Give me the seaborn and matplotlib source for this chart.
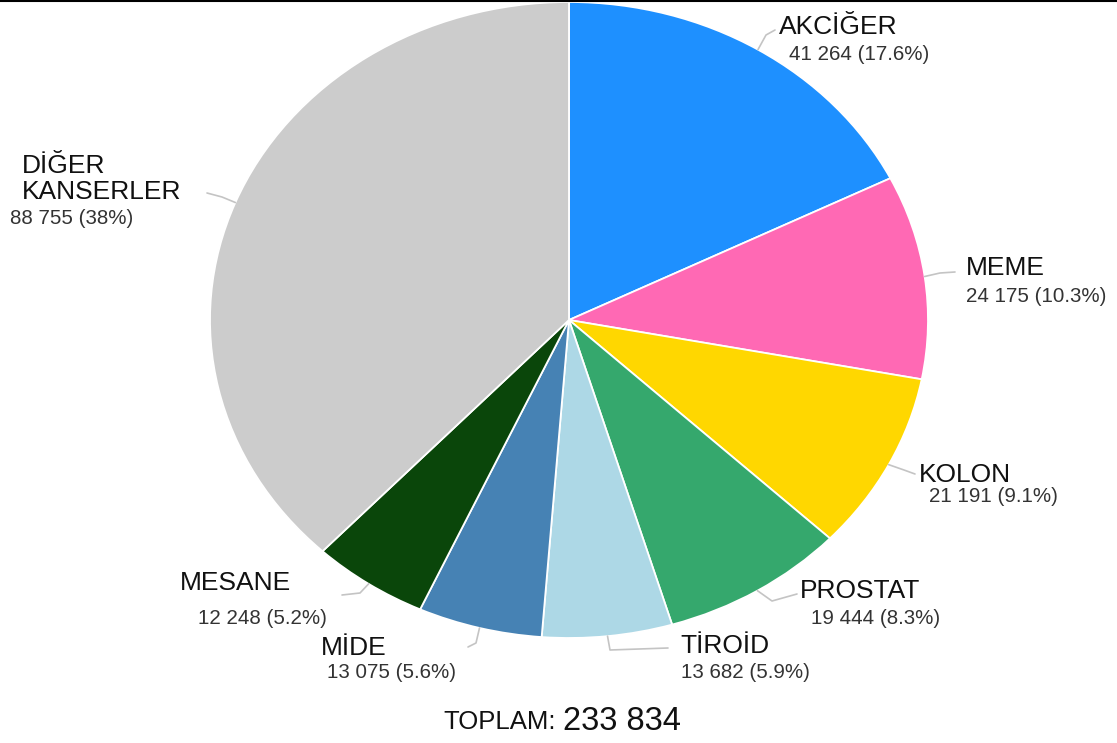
import numpy as np
import matplotlib
matplotlib.use("Agg")
import matplotlib.pyplot as plt
from matplotlib.lines import Line2D
import seaborn as sns

# ---- data ----
categories = ["AKCİĞER", "MEME", "KOLON", "PROSTAT", "TİROİD", "MİDE", "MESANE", "DİĞER\nKANSERLER"]
values = [41264, 24175, 21191, 19444, 13682, 13075, 12248, 88755]
colors = ["#1E90FF", "#FF69B4", "#FFD700", "#35A86D", "#ADD8E6", "#4682B4", "#0A460A", "#CCCCCC"]
total_label = "TOPLAM:"

sns.set_theme(style="white")
plt.rcParams["font.family"] = ["Liberation Sans", "DejaVu Sans"]

W, H = 1117, 743
fig = plt.figure(figsize=(W / 100, H / 100), dpi=100)
fig.patch.set_facecolor("white")

# axes box placed so the (stretched) pie fills the same region as the reference
L, R, T, B = 210, 928, 2, 638
ax = fig.add_axes([L / W, 1 - B / H, (R - L) / W, (B - T) / H])
ax.pie(values, colors=colors, startangle=90, counterclock=False,
       wedgeprops=dict(edgecolor="white", linewidth=1.3))
ax.set_aspect("auto")
ax.set_xlim(-1, 1)
ax.set_ylim(-1, 1)
ax.axis("off")

total = sum(values)


def fmt_num(v):
    return f"{v:,}".replace(",", " ")


def fmt_pct(v):
    p = f"{100 * v / total:.1f}"
    if p.endswith(".0"):
        p = p[:-2]
    return p + "%"


def px(x, y):
    """figure-pixel (from top-left) -> figure fraction"""
    return (x / W, 1 - y / H)


def px_to_data(x, y):
    fx, fy = px(x, y)
    disp = fig.transFigure.transform((fx, fy))
    return ax.transData.inverted().transform(disp)


# layout: name position, value position, leader elbow/end (pixels)
layout = [
    dict(name=(779, 27), val=(789, 55), lead=[(766, 35), (775, 30)]),
    dict(name=(966, 268), val=(966, 297), lead=[(940, 273), (955, 272)]),
    dict(name=(919, 475), val=(929, 497), lead=[(904, 470), (915, 474)]),
    dict(name=(800, 591), val=(811, 619), lead=[(772, 601), (797, 594)]),
    dict(name=(680, 646), val=(681, 673), lead=[(610, 650), (668, 648)]),
    dict(name=(321, 648), val=(327, 672), lead=[(476, 643), (468, 647)]),
    dict(name=(180, 583), val=(198, 619), lead=[(360, 593), (342, 595)]),
    dict(name=(22, 179), val=(10, 218), lead=[(222, 197), (207, 193)]),
]

cum = np.cumsum([0] + values)
for i, (cat, v) in enumerate(zip(categories, values)):
    mid = (cum[i] + cum[i + 1]) / 2 / total
    theta = np.deg2rad(90 - 360 * mid)
    start = (np.cos(theta), np.sin(theta))
    pts = [start] + [tuple(px_to_data(*p)) for p in layout[i]["lead"]]
    xs, ys = zip(*pts)
    ax.plot(xs, ys, color="#C4C4C4", lw=1.2, clip_on=False, solid_capstyle="round")

    nx, ny = px(*layout[i]["name"])
    fig.text(nx, ny, cat, ha="left", va="center", fontsize=19, color="#111111",
             linespacing=1.1)
    vx, vy = px(*layout[i]["val"])
    fig.text(vx, vy, f"{fmt_num(v)} ({fmt_pct(v)})", ha="left", va="center",
             fontsize=14.8, color="#333333")

# total
tx, ty = px(556, 722)
fig.text(tx, ty, total_label, ha="right", va="center", fontsize=18.5, color="#111111")
tx2, _ = px(563, 722)
fig.text(tx2, ty, fmt_num(total), ha="left", va="center", fontsize=23.5, color="#111111")

# thin border line at the top
fig.add_artist(Line2D([0, 1], [1 - 0.6 / H, 1 - 0.6 / H], color="black", lw=1.5,
                      transform=fig.transFigure))

fig.savefig("out.png", dpi=100, facecolor="white")
